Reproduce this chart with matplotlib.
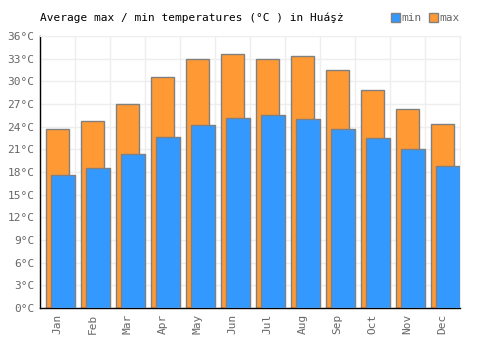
import numpy as np
import matplotlib.pyplot as plt
from matplotlib.patches import Patch

months = ['Jan', 'Feb', 'Mar', 'Apr', 'May', 'Jun', 'Jul', 'Aug', 'Sep', 'Oct', 'Nov', 'Dec']
t_max = [23.7, 24.7, 26.95, 30.55, 32.95, 33.6, 33.0, 33.3, 31.45, 28.8, 26.3, 24.3]
t_min = [17.55, 18.5, 20.35, 22.6, 24.2, 25.1, 25.6, 25.0, 23.65, 22.45, 21.0, 18.75]
y_ticks = list(range(0, 37, 3))

plt.rcParams['font.family'] = ['DejaVu Sans Mono']

fig = plt.figure(figsize=(5, 3.5), dpi=100)
ax = fig.add_axes([0.08, 0.12, 0.84, 0.777])

x = np.arange(len(months))
ax.bar(x - 0.32, t_max, width=0.66, align='edge', color='#ff9933',
       edgecolor='#808080', linewidth=1, zorder=2)
ax.bar(x - 0.18, t_min, width=0.68, align='edge', color='#3399ff',
       edgecolor='#808080', linewidth=1, zorder=3)

ax.set_xlim(-0.5, 11.5)
ax.set_ylim(0, 36)
ax.set_yticks(y_ticks)
ax.set_yticklabels([f'{v}°C' for v in y_ticks])
ax.set_xticks(x)
ax.set_xticklabels(months, rotation=90)
ax.set_xticks(np.arange(-0.5, 12, 1), minor=True)

ax.grid(True, which='major', axis='y', color='#eeeeee', linewidth=1, zorder=0)
ax.grid(True, which='minor', axis='x', color='#eeeeee', linewidth=1, zorder=0)
ax.tick_params(axis='both', which='both', length=0, labelsize=8, colors='#666666', pad=4)
ax.tick_params(axis='x', which='minor', length=0)

for side in ['top', 'right']:
    ax.spines[side].set_color('#eeeeee')
for side in ['left', 'bottom']:
    ax.spines[side].set_color('black')
    ax.spines[side].set_linewidth(1)
ax.set_axisbelow(True)

fig.text(0.08, 0.948, 'Average max / min temperatures (°C ) in Huáşż', fontsize=8,
         color='black', va='center', ha='left')

handles = [Patch(facecolor='#3399ff', edgecolor='#808080', label='min'),
           Patch(facecolor='#ff9933', edgecolor='#808080', label='max')]
fig.legend(handles=handles, loc='center right', bbox_to_anchor=(0.92, 0.948), ncol=2,
           frameon=False, fontsize=8, handlelength=0.8, handleheight=0.8,
           handletextpad=0.2, columnspacing=0.6, labelcolor='#666666',
           borderaxespad=0, borderpad=0)

plt.savefig('out.png')
